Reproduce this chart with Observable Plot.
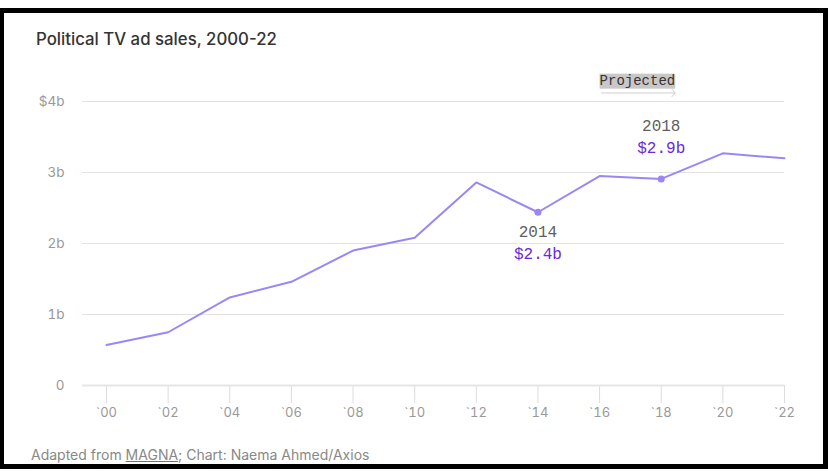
<!DOCTYPE html>
<html>
<head>
<meta charset="utf-8">
<script src="https://cdn.jsdelivr.net/npm/d3@7"></script>
<script src="https://cdn.jsdelivr.net/npm/@observablehq/plot@0.6"></script>
<style>
  html, body { margin: 0; padding: 0; background: #fff; width: 828px; height: 473px; overflow: hidden; }
  #frame { position: absolute; left: -1px; top: 8px; width: 829px; height: 461px; box-sizing: border-box; border: 5px solid #000; pointer-events: none; z-index: 5; }
  #title { position: absolute; left: 36px; top: 29px; font-family: Inter, sans-serif; font-size: 16.8px; font-weight: 500; color: #333; white-space: nowrap; }
  #caption { position: absolute; left: 31px; top: 446px; font-family: Inter, sans-serif; font-size: 14px; color: #888; white-space: nowrap; }
  #caption a { color: #888; text-decoration: underline; text-decoration-color: #3f7fb0; }
  #chart { position: absolute; left: 0; top: 0; }
</style>
</head>
<body>
<div id="title">Political TV ad sales, 2000-22</div>
<div id="chart"></div>
<div id="caption">Adapted from <a>MAGNA</a>; Chart: Naema Ahmed/Axios</div>
<div id="frame"></div>
<script>
const years = [2000, 2002, 2004, 2006, 2008, 2010, 2012, 2014, 2016, 2018, 2020, 2022];
const sales = [0.57, 0.75, 1.24, 1.46, 1.90, 2.08, 2.86, 2.44, 2.95, 2.91, 3.27, 3.20];
const yTicks = [0, 1, 2, 3, 4];
const yTickLabels = ["0", "1b", "2b", "3b", "$4b"];
const calloutYears = [2014, 2018];
const calloutYearLabels = ["2014", "2018"];
const calloutValueLabels = ["$2.4b", "$2.9b"];
const projectedLabel = "Projected";
const projectedStart = 2016;
const projectedEnd = 2018.45;
const projectedLabelLevel = 4.3;
const projectedArrowLevel = 4.12;

const data = years.map((y, i) => ({year: y, value: sales[i]}));
const callouts = calloutYears.map((y, i) => ({
  year: y,
  value: sales[years.indexOf(y)],
  yearLabel: calloutYearLabels[i],
  valueLabel: calloutValueLabels[i],
  below: i === 0
}));

const mono = "'Liberation Mono', 'DejaVu Sans Mono', monospace";
const lineColor = "#9b86f4";

const plot = Plot.plot({
  width: 828,
  height: 473,
  marginTop: 101,
  marginBottom: 88,
  marginLeft: 82,
  marginRight: 44,
  style: {fontFamily: "Inter, sans-serif", fontSize: "13px", background: "transparent", overflow: "visible"},
  x: {domain: [2000, 2022], insetLeft: 24},
  y: {domain: [0, 4]},
  marks: [
    Plot.ruleY(yTicks.filter(d => d > 0), {stroke: "#e2e2e2", strokeWidth: 1}),
    Plot.axisX({ticks: years, tickFormat: d => "`" + String(d).slice(2), tickSize: 18, tickPadding: 4, stroke: "#dcdcdc", fill: "#999", label: null, fontSize: 13}),
    Plot.ruleY([0], {stroke: "#e6e6e6", strokeWidth: 2}),
    Plot.axisY({ticks: yTicks, tickFormat: d => yTickLabels[yTicks.indexOf(d)], tickSize: 0, tickPadding: 18, fill: "#999", label: null, fontSize: 13.5}),
    Plot.line(data, {x: "year", y: "value", stroke: lineColor, strokeWidth: 2}),
    Plot.dot(callouts, {x: "year", y: "value", fill: lineColor, r: 3.5}),
    Plot.text(callouts, {x: "year", y: "value", text: "yearLabel", fontFamily: mono, fontSize: 16, fill: "#5f5f5f", stroke: "white", strokeWidth: 7,
      filter: d => d.below, dy: 20}),
    Plot.text(callouts, {x: "year", y: "value", text: "valueLabel", fontFamily: mono, fontSize: 16, fill: "#6a2ad6", stroke: "white", strokeWidth: 7,
      filter: d => d.below, dy: 42}),
    Plot.text(callouts, {x: "year", y: "value", text: "yearLabel", fontFamily: mono, fontSize: 16, fill: "#5f5f5f",
      filter: d => !d.below, dy: -53}),
    Plot.text(callouts, {x: "year", y: "value", text: "valueLabel", fontFamily: mono, fontSize: 16, fill: "#6a2ad6",
      filter: d => !d.below, dy: -31}),
    Plot.arrow([{x1: projectedStart, x2: projectedEnd, y: projectedArrowLevel}], {x1: "x1", x2: "x2", y1: "y", y2: "y", stroke: "#cfcfcf", strokeWidth: 1, headLength: 7, headAngle: 100, insetStart: 2}),
    Plot.text([{x: projectedStart, y: projectedLabelLevel, t: projectedLabel}], {x: "x", y: "y", text: "t", textAnchor: "start", fontFamily: mono, fontSize: 14, fill: "#3d3030", className: "projected"})
  ]
});
document.getElementById("chart").appendChild(plot);

// gray highlight behind the "Projected" label
plot.querySelectorAll("g.projected text").forEach(t => {
  const b = t.getBBox();
  const r = document.createElementNS("http://www.w3.org/2000/svg", "rect");
  r.setAttribute("x", b.x);
  r.setAttribute("y", b.y + 1);
  r.setAttribute("width", b.width);
  r.setAttribute("height", b.height - 1);
  r.setAttribute("fill", "#c8c8c8");
  const g = t.parentNode;
  const tr = t.getAttribute("transform");
  if (tr) r.setAttribute("transform", tr);
  g.insertBefore(r, t);
});
</script>
</body>
</html>
